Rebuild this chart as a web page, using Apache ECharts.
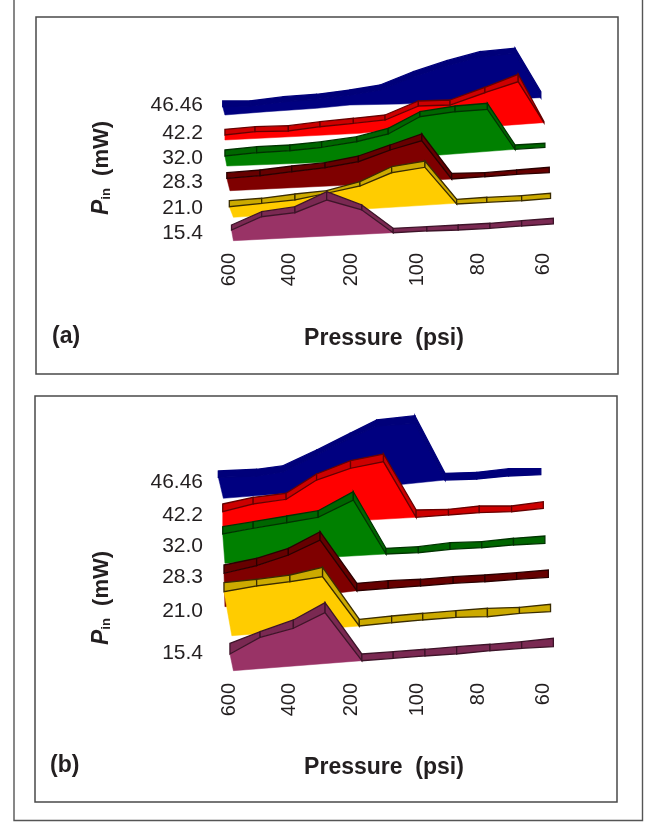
<!DOCTYPE html>
<html>
<head>
<meta charset="utf-8">
<style>html,body{margin:0;padding:0;background:#fff}#c{width:652px;height:822px}</style>
<script src="https://cdn.jsdelivr.net/npm/echarts@6/dist/echarts.min.js"></script>
</head>
<body>
<div id="c"></div>
<script>
// Tick labels and where they sit on each axis
const pressureLabels = ['600','400','200','100','80','60'];
const pinLabels = ['46.46','42.2','32.0','28.3','21.0','15.4'];
const pressureTicks = [0,19.2,38.9,60.1,79.6,100];
const pinTicksA = [145,117,92,68,42,17];
const pinTicksB = [198,165,134,103,69,27];

// Panel (a): x = position along the pressure axis, top/low = edges of the ribbon's band,
// drop = last band point that still has a filled face under it, floorX/floorY = lower edge of that face
const a46x = [-2,6.7,17.3,27.9,38.5,48.1,58.7,69.3,79.9,91.1,99.3];
const a46top = [149,149,153.3,155.7,160,165,178.3,189.3,198.3,201.7,158.3];
const a46low = [143.3,144,148.3,150.7,155,160,173.3,184.3,193.3,196.7,152.3];
const a46drop = 10;
const a46floorX = [99,54.5,38.5,27.9,12,-1.3];
const a46floorY = [152.3,146,145,141.7,138.3,135];

const a42x = [-1.3,8.3,18.9,29,39.6,49.7,60.3,70.4,81.5,92.1,100.3];
const a42top = [120.7,123.3,124.3,128.3,131.7,135,149,150,162.7,175.7,128.3];
const a42low = [115,118.3,119,123.3,126.7,130,144,145,157.3,168.3,127.3];
const a42drop = 10;
const a42floorX = [99.9,86.8,51.3,41.7,-1.3];
const a42floorY = [127.3,124.3,120,116.7,110];

const a32x = [-1.3,8.8,19.4,29.5,40.7,50.7,60.8,72,82.3,91.1,100.6];
const a32top = [100,103.3,105,108.3,113.3,121.7,138.3,144,146.7,105,106.7];
const a32low = [94,97.3,99.3,102.7,108.3,116,133.3,138.3,140.7,100.7,102.7];
const a32drop = 9;
const a32floorX = [91.1,67.2,33.2,-0.7];
const a32floorY = [100.7,95,88,84];

const a28x = [-0.7,9.9,20,30.6,41.2,51.3,61.4,70.9,81.5,91.6,102];
const a28top = [77.3,80,84,87.3,94,105,116,76.7,77.3,80,82.7];
const a28low = [71.7,74.3,78.3,82.3,88.3,100,109.3,71,73.3,75.7,77.3];
const a28drop = 7;
const a28floorX = [70.9,38.5,0.3];
const a28floorY = [71,65,59.3];

const a21x = [0.1,10.4,21,31.1,41.7,51.8,62.4,72.5,82.1,93.2,102.4];
const a21top = [49.3,51.7,56,59.3,68.3,83.3,89,50.7,52.7,54.3,56.7];
const a21low = [43.3,46.7,50,56.7,64,77.3,82.7,46,47.7,49.3,51.7];
const a21drop = 7;
const a21floorX = [72,1.4];
const a21floorY = [46.7,32.7];

const a15x = [0.8,10.4,21,31.1,42.3,52.3,63,73,83.1,93.2,103.3];
const a15top = [25,38.3,43.3,58.3,45,21.7,23.3,25,26.7,29.3,31.7];
const a15low = [20,33.3,37.3,50,40,17.3,19,20,21.7,24,26];
const a15drop = 5;
const a15floorX = [52.3,1.4];
const a15floorY = [17.3,9.3];

// Panel (b)
const b46x = [-3.4,8.8,17.3,27.9,38.5,47,59.2,68.8,78.9,89,99.3];
const b46top = [209,210.7,214.3,230,246.7,260,264.3,206.7,207.7,211.3,211.3];
const b46low = [202.7,204,208.3,225,241.7,254,256.7,200,201,204,205.3];
const b46drop = 7;
const b46floorX = [68.8,55.5,-1.8];
const b46floorY = [200,195.7,181.7];

const b42x = [-2,7.7,18.2,27.9,38.7,49.2,59.6,69.9,79.7,90,100.1];
const b42top = [176,182.7,186.7,206,219.3,226,170,170.7,174,174,178.3];
const b42low = [168.3,176,180.7,200,211.7,218.3,162.7,165,167.3,168.3,171.7];
const b42drop = 6;
const b42floorX = [59.6,-2];
const b42floorY = [162.7,151.7];

const b32x = [-2,7.7,18.4,28.4,39.6,50,60.3,70.4,80.5,90.6,100.6];
const b32top = [153.3,158.3,164,169.3,188.3,131.7,133.3,137.3,138.3,141.7,144];
const b32low = [146,151.7,157.3,162.7,180,126,127.3,130.7,132.3,135,136.7];
const b32drop = 5;
const b32floorX = [50,-1.3];
const b32floorY = [126,116.7];

const b28x = [-1.6,8.8,18.9,29,40.7,50.7,61,71.4,81.5,91.6,101.7];
const b28top = [115,121.7,131.7,148.3,96.7,99.3,100.7,103.3,105,107.3,110];
const b28low = [106.7,114.3,125,140,89.3,91.7,94,96.7,98.3,100.7,102.7];
const b28drop = 4;
const b28floorX = [40.7,-1.3];
const b28floorY = [89.3,73.3];

const b21x = [-1.6,8.8,19.4,29.8,41.5,51.8,61.7,72.3,82.3,92.5,102.4];
const b21top = [97.3,100.7,105,112.7,60.7,64,66.7,69.3,71.7,72.7,75.7];
const b21low = [88.3,94,98.3,103.3,54,57.3,60,62.7,63.3,66.7,68.3];
const b21drop = 4;
const b21floorX = [41.5,0.9];
const b21floorY = [54,44.3];

const b15x = [0.3,9.9,20.5,30.6,42.3,52.3,62.4,72.5,83.1,93.2,103.3];
const b15top = [36.7,48.3,60,77.3,26,28.3,30.7,33.3,35.7,38.3,41.7];
const b15low = [26,42.7,51.7,67.3,19.3,21.7,24,26,29.3,31.7,33.3];
const b15drop = 4;
const b15floorX = [42.3,1.4];
const b15floorY = [19.3,9.3];

// Colours per power level, back ribbon first
const faceColors = ['#000080','#ff0000','#008000','#7f0000','#ffcc00','#993366'];
const bandColors = ['#00007a','#cc0000','#006600','#660000','#ccaa00','#7a2952'];
const edgeColors = ['#00007a','#660000','#003300','#2a0000','#3a2c00','#3d1429'];

const panelA = [
  [a46x,a46top,a46low,a46drop,a46floorX,a46floorY],
  [a42x,a42top,a42low,a42drop,a42floorX,a42floorY],
  [a32x,a32top,a32low,a32drop,a32floorX,a32floorY],
  [a28x,a28top,a28low,a28drop,a28floorX,a28floorY],
  [a21x,a21top,a21low,a21drop,a21floorX,a21floorY],
  [a15x,a15top,a15low,a15drop,a15floorX,a15floorY]
];
const panelB = [
  [b46x,b46top,b46low,b46drop,b46floorX,b46floorY],
  [b42x,b42top,b42low,b42drop,b42floorX,b42floorY],
  [b32x,b32top,b32low,b32drop,b32floorX,b32floorY],
  [b28x,b28top,b28low,b28drop,b28floorX,b28floorY],
  [b21x,b21top,b21low,b21drop,b21floorX,b21floorY],
  [b15x,b15top,b15low,b15drop,b15floorX,b15floorY]
];

function ribbonSeries(panel, axisIndex) {
  const out = [];
  panel.forEach(function (r, k) {
    const x = r[0], top = r[1], low = r[2], drop = r[3], fx = r[4], fy = r[5];
    const face = [];
    for (let i = 0; i <= drop; i++) face.push([x[i], low[i]]);
    fx.forEach(function (v, i) { face.push([v, fy[i]]); });
    out.push({
      type: 'custom', xAxisIndex: axisIndex, yAxisIndex: axisIndex, silent: true,
      data: face, z: 2 + k * 2,
      renderItem: function (params, api) {
        if (params.dataIndex !== 0) return null;
        return { type: 'polygon', shape: { points: face.map(function (p) { return api.coord(p); }) },
          style: { fill: faceColors[k], stroke: faceColors[k], lineWidth: 0.5 } };
      }
    });
    const rows = x.map(function (v, i) { return [v, top[i], low[i]]; });
    out.push({
      type: 'custom', xAxisIndex: axisIndex, yAxisIndex: axisIndex, silent: true,
      data: rows, z: 3 + k * 2,
      renderItem: function (params, api) {
        const i = params.dataIndex;
        if (i >= rows.length - 1) return null;
        const a = rows[i], b = rows[i + 1];
        return { type: 'polygon', shape: { points: [
            api.coord([a[0], a[1]]), api.coord([b[0], b[1]]),
            api.coord([b[0], b[2]]), api.coord([a[0], a[2]]) ] },
          style: { fill: bandColors[k], stroke: edgeColors[k], lineWidth: 1.3 } };
      }
    });
  });
  return out;
}

const FONT = '"Liberation Sans", Arial, sans-serif';
const INK = '#231f20';

function xAxisOf(gridIndex, gap) {
  return {
    type: 'value', gridIndex: gridIndex, min: 0, max: 100,
    name: 'Pressure  (psi)', nameLocation: 'middle', nameGap: gap,
    nameTextStyle: { fontFamily: FONT, fontSize: 23, fontWeight: 'bold', color: INK, padding: [0, 4, 0, 0] },
    axisLine: { show: false }, axisTick: { show: false }, splitLine: { show: false },
    axisLabel: {
      customValues: pressureTicks, rotate: 90, margin: 3,
      fontFamily: FONT, fontSize: 20, color: INK,
      formatter: function (v) { return pressureLabels[pressureTicks.indexOf(v)]; }
    }
  };
}
function yAxisOf(gridIndex, maxV, ticks, pad) {
  return {
    type: 'value', gridIndex: gridIndex, min: 0, max: maxV,
    name: '{i|P}{s|in}{n|  (mW)}', nameLocation: 'middle', nameRotate: 90, nameGap: 116,
    nameTextStyle: {
      padding: pad,
      rich: {
        i: { fontFamily: FONT, fontSize: 23, fontWeight: 'bold', fontStyle: 'italic', color: INK },
        s: { fontFamily: FONT, fontSize: 13, fontWeight: 'bold', color: INK, verticalAlign: 'bottom' },
        n: { fontFamily: FONT, fontSize: 22, fontWeight: 'bold', color: INK }
      }
    },
    axisLine: { show: false }, axisTick: { show: false }, splitLine: { show: false },
    axisLabel: {
      customValues: ticks, margin: 26,
      fontFamily: FONT, fontSize: 21, color: INK,
      formatter: function (v) { return pinLabels[ticks.indexOf(v)]; }
    }
  };
}
function frame(x, y, w, h) {
  return { type: 'rect', silent: true, z: 0, shape: { x: x, y: y, width: w, height: h },
    style: { fill: 'none', stroke: '#4a4a4a', lineWidth: 1.5 } };
}
function outline(points) {
  return { type: 'polyline', silent: true, z: 0, shape: { points: points },
    style: { fill: 'none', stroke: '#555', lineWidth: 1.4 } };
}
function tag(text, x, y) {
  return { type: 'text', silent: true, x: x, y: y,
    style: { text: text, fontFamily: FONT, fontSize: 23, fontWeight: 'bold', fill: INK, verticalAlign: 'middle' } };
}

const chart = echarts.init(document.getElementById('c'), null, { renderer: 'canvas' });
chart.setOption({
  animation: false,
  backgroundColor: '#fff',
  grid: [
    { left: 229, width: 314, top: 30, height: 220 },
    { left: 229, width: 314, top: 400, height: 280 }
  ],
  xAxis: [xAxisOf(0, 77), xAxisOf(1, 76)],
  yAxis: [yAxisOf(0, 220, pinTicksA, [0, 56, 0, 0]), yAxisOf(1, 280, pinTicksB, [0, 116, 0, 0])],
  series: ribbonSeries(panelA, 0).concat(ribbonSeries(panelB, 1)),
  graphic: { elements: [
    outline([[14, 0], [14, 820.5], [642.5, 820.5], [642.5, 0]]),
    frame(36, 17, 582, 357),
    frame(35, 396, 582, 406),
    tag('(a)', 52, 337),
    tag('(b)', 50, 766)
  ] }
});
</script>
</body>
</html>
